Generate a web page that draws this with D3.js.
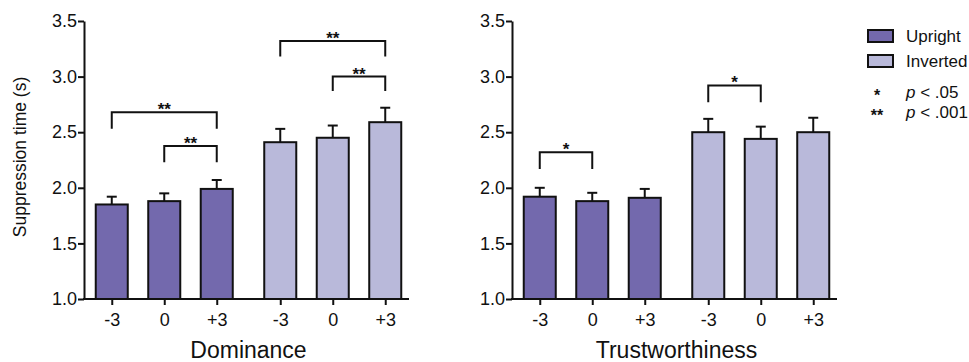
<!DOCTYPE html>
<html>
<head>
<meta charset="utf-8">
<script src="https://cdn.jsdelivr.net/npm/d3@7"></script>
<style>
  body { margin: 0; background: #fff; }
  svg { font-family: "Liberation Sans", Arial, Helvetica, sans-serif; }
  .axis path, .axis line { stroke: #111; stroke-width: 2; }
  .axis text { font-size: 18px; fill: #111; }
</style>
</head>
<body>
<svg id="chart"></svg>
<script>
// ---- data ----
const levels = ['-3', '0', '+3'];
const orientations = ['Upright', 'Inverted'];
const colors = ['#7369ad', '#b9b9da'];
const yTicks = [1.0, 1.5, 2.0, 2.5, 3.0, 3.5];

// Dominance means and SE
const domUpright = [1.85, 1.88, 1.99];
const domUprightErr = [0.07, 0.07, 0.08];
const domInverted = [2.41, 2.45, 2.59];
const domInvertedErr = [0.12, 0.11, 0.13];

// Trustworthiness means and SE
const trustUpright = [1.92, 1.88, 1.91];
const trustUprightErr = [0.08, 0.075, 0.08];
const trustInverted = [2.50, 2.44, 2.50];
const trustInvertedErr = [0.12, 0.11, 0.13];

// significance brackets (y = bar, leg = bottom of the legs, data units)
const domBrackets = [
  { group: 'Upright', from: '-3', to: '+3', y: 2.68, leg: 2.53, label: '**' },
  { group: 'Upright', from: '0', to: '+3', y: 2.376, leg: 2.23, label: '**' },
  { group: 'Inverted', from: '-3', to: '+3', y: 3.32, leg: 3.18, label: '**' },
  { group: 'Inverted', from: '0', to: '+3', y: 3.0, leg: 2.87, label: '**' }
];
const trustBrackets = [
  { group: 'Upright', from: '-3', to: '0', y: 2.32, leg: 2.17, label: '*' },
  { group: 'Inverted', from: '-3', to: '0', y: 2.92, leg: 2.77, label: '*' }
];

const sigSymbols = ['*', '**'];
const sigLabels = [' < .05', ' < .001'];

function rows(up, upErr, inv, invErr) {
  const out = [];
  levels.forEach((l, i) => out.push({ group: 'Upright', level: l, value: up[i], err: upErr[i] }));
  levels.forEach((l, i) => out.push({ group: 'Inverted', level: l, value: inv[i], err: invErr[i] }));
  return out;
}

const svg = d3.select('#chart')
    .attr('width', 969)
    .attr('height', 362);

class Panel {

  constructor(_config, _data, _brackets) {
    this.config = {
      left: _config.left,
      top: 21,
      width: 325,
      height: 278,
      title: _config.title
    };
    this.data = _data;
    this.brackets = _brackets;
    this.initVis();
  }

  initVis() {
    let vis = this;
    vis.chart = svg.append('g')
        .attr('transform', `translate(${vis.config.left},${vis.config.top})`);

    vis.yScale = d3.scaleLinear()
        .domain([1, 3.5])
        .range([vis.config.height, 0]);

    // outer band: orientation group, inner band: level
    vis.groupScale = d3.scaleBand()
        .domain(orientations)
        .range([-4, 333])
        .padding(0);

    vis.levelScale = d3.scaleBand()
        .domain(levels)
        .range([0, vis.groupScale.bandwidth()])
        .paddingInner(0.39)
        .paddingOuter(0.3);

    vis.xCenter = (g, l) => vis.groupScale(g) + vis.levelScale(l) + vis.levelScale.bandwidth() / 2;

    const keys = [];
    orientations.forEach(g => levels.forEach(l => keys.push(g + '|' + l)));
    vis.xScale = d3.scaleOrdinal()
        .domain(keys)
        .range(keys.map(k => vis.xCenter(...k.split('|'))));

    vis.yAxis = d3.axisLeft(vis.yScale)
        .tickValues(yTicks)
        .tickFormat(d3.format('.1f'))
        .tickSize(6)
        .tickSizeOuter(0)
        .tickPadding(1);

    vis.xAxis = d3.axisBottom(vis.xScale)
        .tickFormat(k => k.split('|')[1])
        .tickSize(6)
        .tickPadding(8);

    this.renderVis();
  }

  renderVis() {
    let vis = this;
    const h = vis.config.height;
    const bw = vis.levelScale.bandwidth();

    // error bars (upper only)
    const err = vis.chart.selectAll('.err')
        .data(vis.data)
        .join('g')
        .attr('class', 'err')
        .attr('stroke', '#111')
        .attr('stroke-width', 2);
    err.append('line')
        .attr('x1', d => vis.xCenter(d.group, d.level))
        .attr('x2', d => vis.xCenter(d.group, d.level))
        .attr('y1', d => vis.yScale(d.value))
        .attr('y2', d => vis.yScale(d.value + d.err));
    err.append('line')
        .attr('x1', d => vis.xCenter(d.group, d.level) - 5)
        .attr('x2', d => vis.xCenter(d.group, d.level) + 5)
        .attr('y1', d => vis.yScale(d.value + d.err))
        .attr('y2', d => vis.yScale(d.value + d.err));

    // bars
    vis.chart.selectAll('.bar')
        .data(vis.data)
        .join('rect')
        .attr('class', 'bar')
        .attr('x', d => vis.xCenter(d.group, d.level) - bw / 2)
        .attr('y', d => vis.yScale(d.value))
        .attr('width', bw)
        .attr('height', d => h - vis.yScale(d.value))
        .attr('fill', d => colors[orientations.indexOf(d.group)])
        .attr('stroke', '#111')
        .attr('stroke-width', 2);

    // axes
    vis.chart.append('g')
        .attr('class', 'axis y-axis')
        .call(vis.yAxis);

    const xg = vis.chart.append('g')
        .attr('class', 'axis x-axis')
        .attr('transform', `translate(0,${h})`)
        .call(vis.xAxis);
    xg.select('.domain').remove();
    xg.append('line')
        .attr('x1', -1)
        .attr('x2', vis.config.width)
        .attr('stroke', '#111')
        .attr('stroke-width', 2);

    // significance brackets
    const br = vis.chart.selectAll('.bracket')
        .data(vis.brackets)
        .join('g')
        .attr('class', 'bracket');
    br.append('path')
        .attr('fill', 'none')
        .attr('stroke', '#111')
        .attr('stroke-width', 2)
        .attr('d', d => {
          const x1 = vis.xCenter(d.group, d.from), x2 = vis.xCenter(d.group, d.to);
          const yb = vis.yScale(d.y), yl = vis.yScale(d.leg);
          return `M${x1},${yl}V${yb}H${x2}V${yl}`;
        });
    br.append('text')
        .attr('x', d => (vis.xCenter(d.group, d.from) + vis.xCenter(d.group, d.to)) / 2)
        .attr('y', d => vis.yScale(d.y) + 3)
        .attr('text-anchor', 'middle')
        .attr('font-size', 17)
        .attr('font-weight', 'bold')
        .attr('fill', '#111')
        .text(d => d.label);

    // panel title
    vis.chart.append('text')
        .attr('x', vis.config.width / 2 + 2)
        .attr('y', 336.5)
        .attr('text-anchor', 'middle')
        .attr('font-size', 23)
        .attr('fill', '#111')
        .text(vis.config.title);
  }
}

new Panel({ left: 84, title: 'Dominance' }, rows(domUpright, domUprightErr, domInverted, domInvertedErr), domBrackets);
new Panel({ left: 512, title: 'Trustworthiness' }, rows(trustUpright, trustUprightErr, trustInverted, trustInvertedErr), trustBrackets);

// y axis label
svg.append('text')
    .attr('transform', 'translate(26,157) rotate(-90)')
    .attr('text-anchor', 'middle')
    .attr('font-size', 17.5)
    .attr('fill', '#111')
    .text('Suppression time (s)');

// legend
const legend = svg.append('g').attr('transform', 'translate(868,0)');
legend.selectAll('rect')
    .data(orientations)
    .join('rect')
    .attr('x', 0)
    .attr('y', (d, i) => 30 + i * 25)
    .attr('width', 25)
    .attr('height', 12)
    .attr('fill', (d, i) => colors[i])
    .attr('stroke', '#111')
    .attr('stroke-width', 2);
legend.selectAll('.ltext')
    .data(orientations)
    .join('text')
    .attr('class', 'ltext')
    .attr('x', 38)
    .attr('y', (d, i) => 42 + i * 25)
    .attr('font-size', 17)
    .attr('fill', '#111')
    .text(d => d);
legend.selectAll('.lsym')
    .data(sigSymbols)
    .join('text')
    .attr('class', 'lsym')
    .attr('x', 9)
    .attr('y', (d, i) => 101 + i * 20)
    .attr('text-anchor', 'middle')
    .attr('font-size', 16)
    .attr('font-weight', 'bold')
    .attr('fill', '#111')
    .text(d => d);
const sig = legend.selectAll('.lsig')
    .data(sigLabels)
    .join('text')
    .attr('class', 'lsig')
    .attr('x', 38)
    .attr('y', (d, i) => 98 + i * 20)
    .attr('font-size', 17)
    .attr('fill', '#111');
sig.append('tspan').attr('font-style', 'italic').text('p');
sig.append('tspan').text(d => d);
</script>
</body>
</html>
